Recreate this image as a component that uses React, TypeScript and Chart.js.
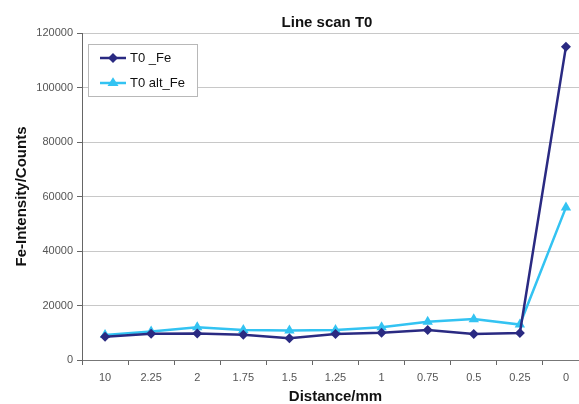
import React, { useEffect, useRef } from "react";
import { Chart, registerables } from "chart.js";

Chart.register(...registerables);

const categories = ["10", "2.25", "2", "1.75", "1.5", "1.25", "1", "0.75", "0.5", "0.25", "0"];
const feValues = [8500, 9600, 9700, 9300, 8000, 9500, 10000, 11000, 9500, 9900, 115000];
const altFeValues = [9200, 10500, 12000, 11000, 10800, 11000, 12000, 14000, 15000, 13000, 56000];
const seriesNames = ["T0 _Fe", "T0 alt_Fe"];
const chartTitle = "Line scan T0";
const xTitle = "Distance/mm";
const yTitle = "Fe-Intensity/Counts";

const DARK = "#2a2a82";
const LIGHT = "#33c3f2";
const FONT = "'Liberation Sans', Arial, sans-serif";

function drawMarker(ctx: CanvasRenderingContext2D, style: string, r: number, x: number, y: number, color: string) {
  ctx.fillStyle = color;
  ctx.beginPath();
  if (style === "rectRot") {
    ctx.moveTo(x, y - r);
    ctx.lineTo(x + r, y);
    ctx.lineTo(x, y + r);
    ctx.lineTo(x - r, y);
  } else {
    const h = r * 1.6;
    ctx.moveTo(x, y - h * 0.66);
    ctx.lineTo(x + r, y + h * 0.34);
    ctx.lineTo(x - r, y + h * 0.34);
  }
  ctx.closePath();
  ctx.fill();
}

const overlayPlugin = {
  id: "overlay",
  afterDraw(chart: any) {
    const ctx = chart.ctx;
    ctx.save();
    ctx.font = `bold 15px ${FONT}`;
    ctx.fillStyle = "#111";
    ctx.textAlign = "center";
    ctx.textBaseline = "alphabetic";
    ctx.fillText(chartTitle, 327, 27);
    const bx = 88.5, by = 44.5, bw = 109, bh = 52;
    ctx.fillStyle = "#fff";
    ctx.fillRect(bx, by, bw, bh);
    ctx.strokeStyle = "#b8b8b8";
    ctx.lineWidth = 1;
    ctx.strokeRect(bx, by, bw, bh);
    const items = [
      { name: seriesNames[0], color: DARK, style: "rectRot", r: 5, y: 58 },
      { name: seriesNames[1], color: LIGHT, style: "triangle", r: 5.5, y: 83 },
    ];
    items.forEach((it) => {
      ctx.strokeStyle = it.color;
      ctx.lineWidth = 2.5;
      ctx.beginPath();
      ctx.moveTo(100, it.y);
      ctx.lineTo(126, it.y);
      ctx.stroke();
      drawMarker(ctx, it.style, it.r, 113, it.y, it.color);
      ctx.font = `13px ${FONT}`;
      ctx.fillStyle = "#111";
      ctx.textAlign = "left";
      ctx.textBaseline = "middle";
      ctx.fillText(it.name, 130, it.y + 0.5);
    });
    ctx.restore();
  },
};

export default function App() {
  const ref = useRef<HTMLCanvasElement>(null);
  useEffect(() => {
    if (!ref.current) return;
    const chart = new Chart(ref.current, {
      type: "line",
      data: {
        labels: categories,
        datasets: [
          {
            label: seriesNames[0],
            data: feValues,
            borderColor: DARK,
            backgroundColor: DARK,
            borderWidth: 2.5,
            pointStyle: "rectRot",
            pointRadius: 5,
            pointBorderWidth: 0,
            tension: 0,
          },
          {
            label: seriesNames[1],
            data: altFeValues,
            borderColor: LIGHT,
            backgroundColor: LIGHT,
            borderWidth: 2.5,
            pointStyle: "triangle",
            pointRadius: 6,
            pointBorderWidth: 0,
            tension: 0,
          },
        ],
      },
      options: {
        responsive: false,
        animation: false,
        layout: { padding: { left: 0, right: 11, top: 33, bottom: 0 } },
        plugins: {
          legend: { display: false },
          title: { display: false },
          tooltip: { enabled: false },
        },
        scales: {
          x: {
            offset: true,
            grid: {
              offset: true,
              drawOnChartArea: false,
              drawTicks: true,
              tickLength: 5,
              tickColor: "#666",
            },
            border: { color: "#777", width: 1 },
            ticks: { color: "#555", font: { family: FONT, size: 11 }, padding: 6, maxRotation: 0, autoSkip: false },
            title: {
              display: true,
              text: xTitle,
              color: "#111",
              font: { family: FONT, size: 15, weight: "bold" },
              padding: { top: 0, bottom: 0 },
            },
            afterFit(scale: any) {
              scale.height = 46;
            },
          },
          y: {
            min: 0,
            max: 120000,
            grid: {
              color: "#c8c8c8",
              lineWidth: 1,
              drawTicks: true,
              tickLength: 5,
              tickColor: "#666",
            },
            border: { color: "#666", width: 1 },
            ticks: {
              stepSize: 20000,
              color: "#555",
              font: { family: FONT, size: 11 },
              padding: 4,
              callback: (v: any) => String(v),
            },
            title: {
              display: true,
              text: yTitle,
              color: "#111",
              font: { family: FONT, size: 15, weight: "bold" },
              padding: { top: 13, bottom: 0 },
            },
            afterFit(scale: any) {
              scale.width = 82;
            },
          },
        },
      },
      plugins: [overlayPlugin],
    });
    return () => chart.destroy();
  }, []);
  return (
    <div style={{ position: "fixed", left: 0, top: 0, width: 579, height: 404, overflow: "hidden", background: "#fff" }}>
      <canvas ref={ref} width={600} height={406} style={{ display: "block" }} />
    </div>
  );
}
